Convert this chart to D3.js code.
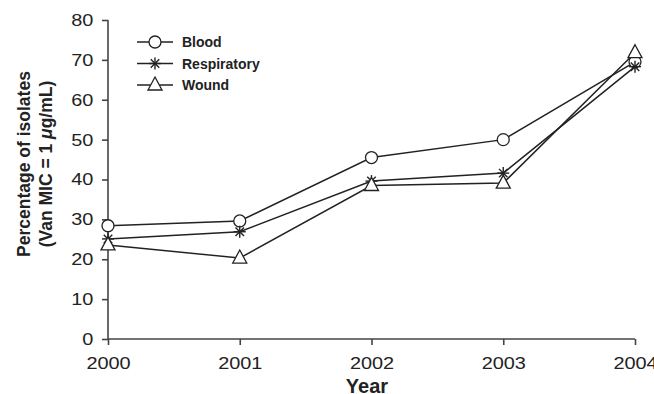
<!DOCTYPE html>
<html>
<head>
<meta charset="utf-8">
<script src="https://cdn.jsdelivr.net/npm/d3@7"></script>
<style>
body{margin:0;background:#fff;}
text{font-family:"Liberation Sans",Arial,sans-serif;}
</style>
</head>
<body>
<svg id="chart" width="654" height="394"></svg>
<script>
years=[2000,2001,2002,2003,2004];
blood=[28.4,29.6,45.5,50,69.5];
respiratory=[25.1,26.9,39.6,41.6,68.3];
wound=[23.6,20.3,38.5,39.1,71.8];
yTicks=[0,10,20,30,40,50,60,70,80];
seriesNames=["Blood","Respiratory","Wound"];
seriesMarks=["circle","star","triangle"];

svg=d3.select("#chart");
x=d3.scaleLinear().domain([2000,2004]).range([108,635]);
y=d3.scaleLinear().domain([0,80]).range([339,20]);

// axes
yAxis=svg.append("g").attr("transform","translate(108,0)")
     .call(d3.axisLeft(y).tickValues(yTicks).tickSize(6).tickPadding(6).tickFormat(d3.format("d")));
xAxis=svg.append("g").attr("transform","translate(0,339)")
     .call(d3.axisBottom(x).tickValues(years).tickSize(6).tickPadding(12).tickFormat(d3.format("d")));
svg.selectAll(".domain").attr("stroke","#444").attr("stroke-width",1.6);
svg.selectAll(".tick line").attr("stroke","#444").attr("stroke-width",1.6);
svg.selectAll(".tick text").attr("font-size","17px").attr("fill","#222")
   .attr("transform","scale(1.17,1)");
yAxis.selectAll(".tick text").attr("x",-12.5);
yAxis.selectAll(".domain").attr("d","M0,"+y(80)+"V"+y(0));
xAxis.selectAll(".domain").attr("d","M"+x(2000)+",0H"+x(2004));

// axis titles
svg.append("text").text("Year")
   .attr("x",367).attr("y",393)
   .attr("font-size","20px").attr("font-weight","bold")
   .attr("text-anchor","middle").attr("fill","#222");
yl=svg.append("text")
   .attr("transform","translate(30,164) rotate(-90)")
   .attr("font-size","17.5px").attr("font-weight","bold")
   .attr("text-anchor","middle").attr("fill","#222");
yl.append("tspan").attr("x",0).attr("y",0).text("Percentage of isolates");
t2=yl.append("tspan").attr("x",0).attr("y",22);
t2.append("tspan").text("(Van MIC = 1 ");
t2.append("tspan").attr("font-style","italic").text("μ");
t2.append("tspan").text("g/mL)");

function drawMark(g,type,cx,cy){
     if(type=="circle"){
          g.append("circle").attr("cx",cx).attr("cy",cy).attr("r",6)
           .attr("fill","#fff").attr("stroke","#222").attr("stroke-width",1.3);
     } else if(type=="star"){
          [0,45,90,135].forEach(function(a){
               var r=6, rad=a*Math.PI/180;
               g.append("line")
                .attr("x1",cx-r*Math.cos(rad)).attr("y1",cy-r*Math.sin(rad))
                .attr("x2",cx+r*Math.cos(rad)).attr("y2",cy+r*Math.sin(rad))
                .attr("stroke","#222").attr("stroke-width",1.4);
          });
     } else {
          g.append("path")
           .attr("d","M"+cx+","+(cy-8)+"L"+(cx+7)+","+(cy+5)+"L"+(cx-7)+","+(cy+5)+"Z")
           .attr("fill","#fff").attr("stroke","#222").attr("stroke-width",1.3);
     }
}

line=d3.line().x(function(d,i){return x(years[i])}).y(function(d){return y(d)});
[blood,respiratory,wound].forEach(function(vals,s){
     svg.append("path").datum(vals).attr("d",line)
        .attr("fill","none").attr("stroke","#222").attr("stroke-width",1.5);
});
[blood,respiratory,wound].forEach(function(vals,s){
     g=svg.append("g");
     vals.forEach(function(v,i){drawMark(g,seriesMarks[s],x(years[i]),y(v));});
});

// legend
seriesNames.forEach(function(name,i){
     ly=42+21.5*i;
     lg=svg.append("g");
     lg.append("line").attr("x1",137).attr("x2",173).attr("y1",ly).attr("y2",ly)
       .attr("stroke","#222").attr("stroke-width",1.5);
     drawMark(lg,seriesMarks[i],155,ly);
     lg.append("text").text(name).attr("x",182).attr("y",ly+5)
       .attr("font-size","14px").attr("font-weight","bold").attr("fill","#222");
});
</script>
</body>
</html>
